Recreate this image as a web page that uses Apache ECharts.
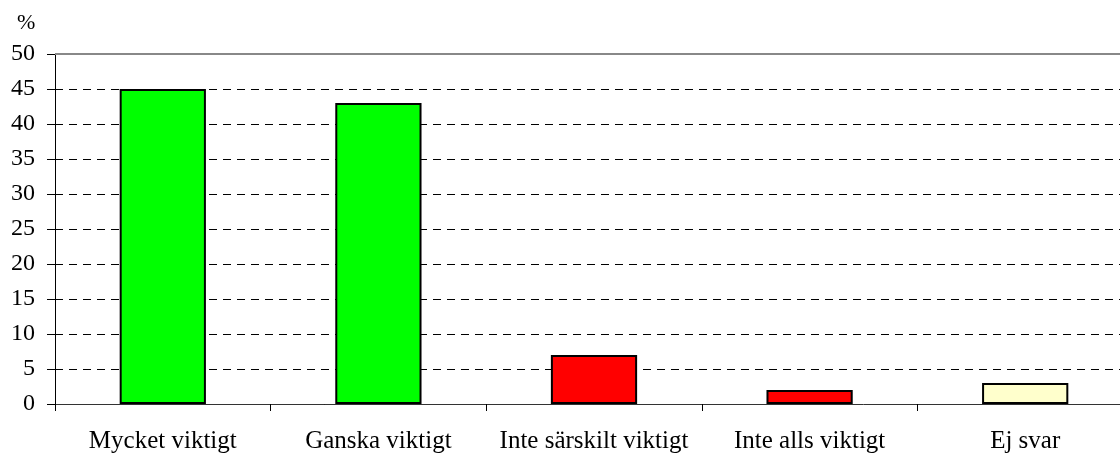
<!DOCTYPE html>
<html>
<head>
<meta charset="utf-8">
<script src="https://cdn.jsdelivr.net/npm/echarts@6/dist/echarts.min.js"></script>
<style>
  html, body { margin: 0; padding: 0; background: #fff; overflow: hidden; }
  /* a bit wider than the window: the original plot runs past the right edge */
  #chart { width: 1133px; height: 454px; }
</style>
</head>
<body>
<div id="chart"></div>
<script>
const categories = ["Mycket viktigt", "Ganska viktigt", "Inte särskilt viktigt", "Inte alls viktigt", "Ej svar"];
const values = [45, 43, 7, 2, 3];
const barColors = ["#00ff00", "#00ff00", "#ff0000", "#ff0000", "#ffffcc"];
const yTicks = { min: 0, max: 50, step: 5 };

const font = "'Liberation Serif', 'Times New Roman', serif";

const chart = echarts.init(document.getElementById("chart"));
chart.setOption({
    animation: false,
    title: {
        text: "%", left: 12, top: 7,
        textStyle: { fontFamily: font, fontSize: 22, fontWeight: "normal", color: "#000" }
    },
    grid: { left: 55, right: 0, top: 54, bottom: 50 },
    xAxis: {
        type: "category",
        data: categories,
        axisLine: { lineStyle: { color: "#333", width: 1 } },
        axisTick: { show: true, length: 7, lineStyle: { color: "#000" } },
        axisLabel: { fontFamily: font, fontSize: 25, color: "#000", margin: 25, interval: 0 }
    },
    yAxis: {
        type: "value",
        min: yTicks.min, max: yTicks.max, interval: yTicks.step,
        axisLine: { show: true, lineStyle: { color: "#000", width: 1 } },
        axisTick: { show: true, length: 8, lineStyle: { color: "#000" } },
        axisLabel: { fontFamily: font, fontSize: 24, color: "#000", margin: 20 },
        splitLine: { show: true, lineStyle: { color: "#000", type: [8, 6], width: 1 } }
    },
    series: [{
        type: "bar",
        barWidth: "40%",
        data: values.map((v, i) => ({
            value: v,
            itemStyle: { color: barColors[i], borderColor: "#000", borderWidth: 2 }
        })),
        markLine: {
            silent: true,
            symbol: "none",
            label: { show: false },
            lineStyle: { color: "#888", type: "solid", width: 2 },
            data: [{ yAxis: yTicks.max }]
        }
    }]
});
</script>
</body>
</html>
